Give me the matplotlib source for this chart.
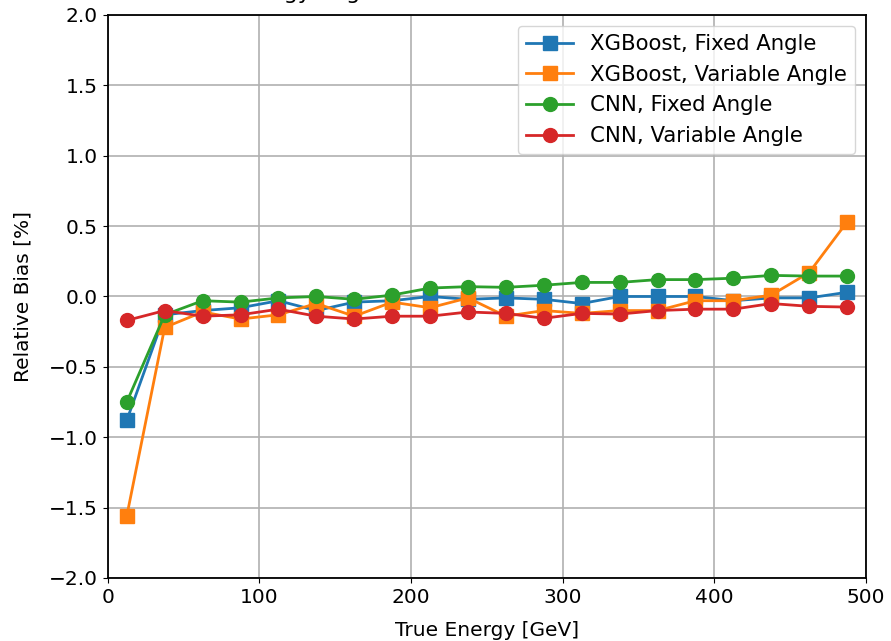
import numpy as np
import matplotlib
matplotlib.use("Agg")
import matplotlib.pyplot as plt

# relative bias per true-energy bin (bin width 25 GeV)
energy = np.arange(12.5, 500, 25)

xgb_fixed = [-0.88, -0.13, -0.10, -0.08, -0.03, -0.10, -0.04, -0.03, 0.00, -0.02,
             -0.01, -0.02, -0.05, 0.00, 0.00, 0.00, -0.03, -0.01, -0.01, 0.03]
xgb_variable = [-1.56, -0.22, -0.11, -0.16, -0.13, -0.05, -0.14, -0.04, -0.08, -0.01,
                -0.14, -0.10, -0.12, -0.10, -0.10, -0.03, -0.03, 0.01, 0.17, 0.53]
cnn_fixed = [-0.75, -0.13, -0.03, -0.04, -0.01, 0.00, -0.02, 0.01, 0.06, 0.07,
             0.065, 0.08, 0.10, 0.10, 0.12, 0.12, 0.13, 0.15, 0.145, 0.145]
cnn_variable = [-0.17, -0.10, -0.14, -0.13, -0.09, -0.14, -0.16, -0.14, -0.14, -0.11,
                -0.12, -0.155, -0.12, -0.125, -0.10, -0.09, -0.09, -0.05, -0.07, -0.075]

plt.rcParams['font.family'] = ['DejaVu Sans']
plt.rcParams['font.size'] = 14.5

fig = plt.figure(figsize=(8.91, 6.41), dpi=100)
ax = fig.add_axes([0.121, 0.0983, 0.851, 0.8783])

ax.plot(energy, xgb_fixed, marker='s', color='#1f77b4', lw=2, ms=10, label='XGBoost, Fixed Angle')
ax.plot(energy, xgb_variable, marker='s', color='#ff7f0e', lw=2, ms=10, label='XGBoost, Variable Angle')
ax.plot(energy, cnn_fixed, marker='o', color='#2ca02c', lw=2, ms=10, label='CNN, Fixed Angle')
ax.plot(energy, cnn_variable, marker='o', color='#d62728', lw=2, ms=10, label='CNN, Variable Angle')

ax.set_xlim(0, 500)
ax.set_ylim(-2.0, 2.0)
ax.set_xticks([0, 100, 200, 300, 400, 500])
ax.set_yticks(np.arange(-2.0, 2.01, 0.5))
ax.grid(True, color='#b0b0b0', lw=1.2)
for s in ax.spines.values():
    s.set_linewidth(1.3)

ax.set_xlabel('True Energy [GeV]', labelpad=10)
ax.set_ylabel('Relative Bias [%]', labelpad=12)
ax.legend(loc='upper right', fontsize=15.3, borderaxespad=0.5, handlelength=2.2)

# title mostly cropped off in the source image, only descenders remain
fig.text(0.262, 1.002, 'Energy Regression Bias', ha='left', va='baseline', fontsize=16)

fig.savefig('out.png', dpi=100)
